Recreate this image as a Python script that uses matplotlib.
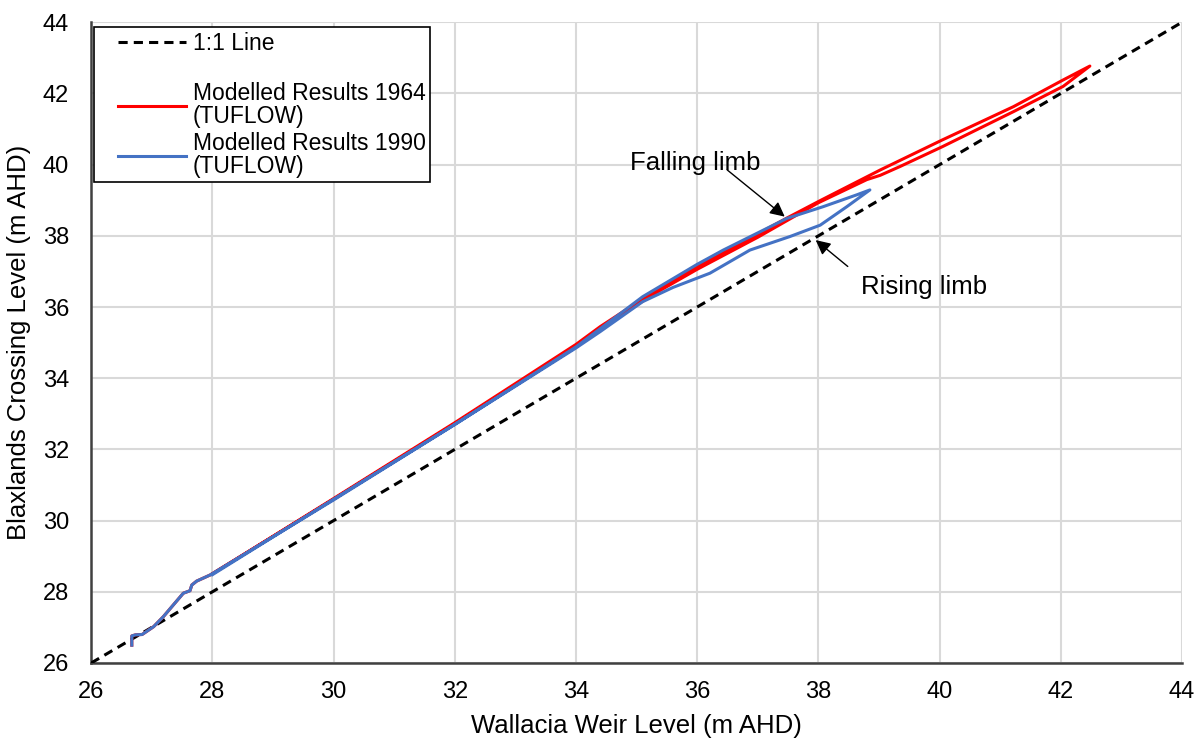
import matplotlib.pyplot as plt
from matplotlib.lines import Line2D
from matplotlib.legend_handler import HandlerLine2D

plt.rcParams['font.family'] = ['Liberation Sans', 'DejaVu Sans']

# 1:1 reference line
one_to_one = [26, 44]

# Modelled Results 1964 (TUFLOW) - rising limb then falling limb
red_x = [26.67, 26.67, 26.73, 26.84, 27.03, 27.19, 27.33, 27.52, 27.63, 27.66, 27.74, 27.96,
         30.0, 32.0, 34.0, 34.4, 35.3, 36.0, 37.0, 38.0, 38.8, 39.02, 39.35, 40.04, 41.22, 42.04, 42.48,
         42.04, 41.22, 40.04, 39.02, 38.03, 37.48, 36.0, 35.3, 34.4, 34.0, 32.0, 30.0, 28.0]
red_y = [26.5, 26.76, 26.79, 26.8, 27.02, 27.3, 27.58, 27.96, 28.03, 28.19, 28.3, 28.47,
         30.6, 32.72, 34.9, 35.4, 36.38, 37.06, 37.96, 38.93, 39.58, 39.7, 39.95, 40.5, 41.49, 42.2, 42.77,
         42.38, 41.63, 40.69, 39.85, 38.99, 38.5, 37.13, 36.45, 35.45, 34.95, 32.75, 30.62, 28.5]

# Modelled Results 1990 (TUFLOW)
blue_x = [26.67, 26.67, 26.73, 26.84, 27.03, 27.19, 27.33, 27.52, 27.63, 27.66, 27.74, 27.96,
          30.0, 32.0, 34.0, 34.4, 35.1, 35.6, 36.21, 36.87, 37.53, 38.03, 38.47, 38.85,
          38.63, 38.08, 37.48, 36.43, 36.0, 35.1, 34.0, 32.0, 30.0, 28.0]
blue_y = [26.5, 26.76, 26.79, 26.8, 27.02, 27.3, 27.58, 27.96, 28.03, 28.19, 28.3, 28.47,
          30.58, 32.7, 34.85, 35.31, 36.15, 36.55, 36.95, 37.6, 37.98, 38.3, 38.82, 39.29,
          39.15, 38.82, 38.49, 37.6, 37.2, 36.29, 34.88, 32.7, 30.6, 28.48]

ticks = [26, 28, 30, 32, 34, 36, 38, 40, 42, 44]

fig = plt.figure(figsize=(12, 7.42), dpi=100)
ax = fig.add_axes([0.076, 0.1065, 0.909, 0.8635])

ax.plot(one_to_one, one_to_one, color='black', linestyle=(0, (3, 2)), lw=2.2, zorder=3)
ax.plot(red_x, red_y, color='#ff0000', lw=2.2, zorder=4)
ax.plot(blue_x, blue_y, color='#4472c4', lw=2.2, zorder=5)

ax.set_xlim(26, 44)
ax.set_ylim(26, 44)
ax.set_xticks(ticks)
ax.set_yticks(ticks)
ax.tick_params(length=0, labelsize=17)
ax.tick_params(axis='x', pad=13)
ax.tick_params(axis='y', pad=16)
ax.grid(True, color='#d9d9d9', lw=1.5)
ax.set_axisbelow(True)
for s in ['top', 'right']:
    ax.spines[s].set_visible(False)
for s in ['left', 'bottom']:
    ax.spines[s].set_color('#404040')
    ax.spines[s].set_linewidth(1.8)

ax.set_xlabel('Wallacia Weir Level (m AHD)', fontsize=18.5, labelpad=8)
ax.set_ylabel('Blaxlands Crossing Level (m AHD)', fontsize=18.5, labelpad=8)

# annotations
ax.annotate('', xy=(37.48, 38.49), xytext=(36.46, 39.9),
            arrowprops=dict(arrowstyle='-|>', color='black', lw=1, mutation_scale=22))
ax.text(35.97, 40.05, 'Falling limb', fontsize=18.5, ha='center', va='center')
ax.annotate('', xy=(37.92, 37.93), xytext=(38.52, 37.09),
            arrowprops=dict(arrowstyle='-|>', color='black', lw=1, mutation_scale=22))
ax.text(39.75, 36.56, 'Rising limb', fontsize=18.5, ha='center', va='center')

handles = [Line2D([], [], color='black', linestyle=(0, (3, 2)), lw=2.2),
           Line2D([], [], color='none'),
           Line2D([], [], color='#ff0000', lw=2.2),
           Line2D([], [], color='#4472c4', lw=2.2)]
labels = ['1:1 Line', ' ', 'Modelled Results 1964\n(TUFLOW)', 'Modelled Results 1990\n(TUFLOW)']
leg = ax.legend(handles, labels, loc='upper left', bbox_to_anchor=(0.003, 0.992),
                borderaxespad=0, fontsize=16.5, fancybox=False, framealpha=1,
                edgecolor='black', handlelength=3.8, handletextpad=0.3, labelspacing=0.17,
                borderpad=0.2, handler_map={Line2D: HandlerLine2D(xpad=0.83)})
leg.get_frame().set_linewidth(1.2)
for t in leg.get_texts():
    t.set_linespacing(1.0)
leg.get_texts()[1].set_fontsize(11)

fig.savefig('out.png', dpi=100)
